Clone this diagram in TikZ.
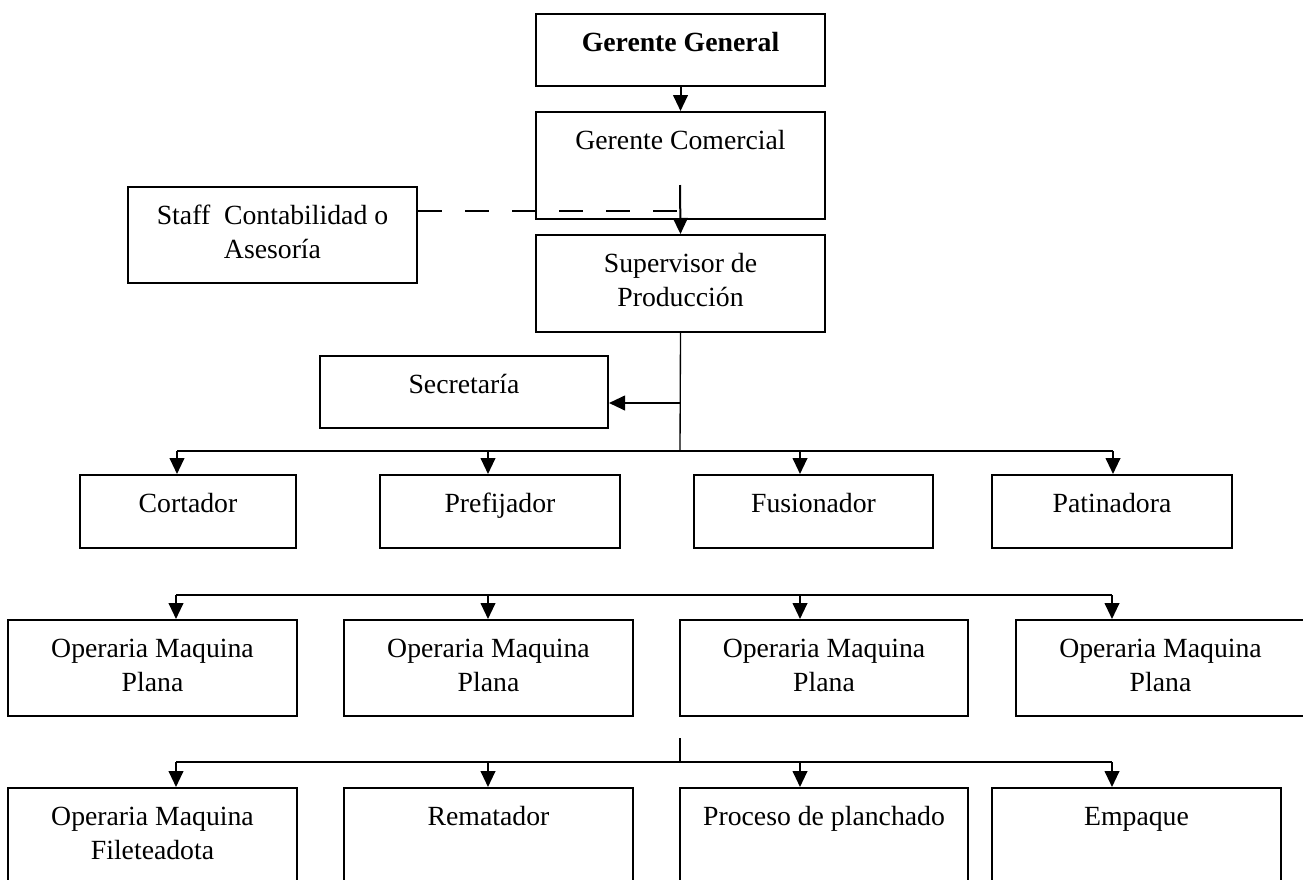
\documentclass[tikz,border=0pt]{standalone}
\usepackage{fontspec}
\setmainfont{Liberation Serif}
\usetikzlibrary{arrows.meta}
\begin{document}
\begin{tikzpicture}
  [
    x = 0.75pt, y = -0.75pt,
    every node/.style = {font = \fontsize{20.8pt}{25.5pt}\selectfont},
    puesto/.style = {draw, rectangle, line width = 1.5pt, anchor = north, align = center, inner sep = 0pt, text height = 27.75pt},
    dos/.style = {text height = 53.25pt},
    linea/.style = {line width = 1.5pt},
    >={Triangle[length = 12pt, width = 11pt]}
  ]
    \useasboundingbox (0,0) rectangle (1303,879);
    \node (gg) [puesto, minimum width = 216.75pt, text depth = 26.25pt] at (680.5,13) {\textbf{Gerente General}};
    \node (gc) [puesto, minimum width = 216.75pt, text depth = 52.5pt] at (680.5,111) {Gerente Comercial};
    \node (staff) [puesto, dos, minimum width = 216.75pt, text depth = 18.75pt] at (272.5,186) {Staff~ Contabilidad o\\Asesoría};
    \node (sup) [puesto, dos, minimum width = 216.75pt, text depth = 19.5pt] at (680.5,234) {Supervisor de\\Producción};
    \node (sec) [puesto, minimum width = 216pt, text depth = 26.25pt] at (464,355) {Secretaría};
    \node (cor) [puesto, minimum width = 162pt, text depth = 27pt] at (188,474) {Cortador};
    \node (pre) [puesto, minimum width = 180pt, text depth = 27pt] at (500,474) {Prefijador};
    \node (fus) [puesto, minimum width = 179.25pt, text depth = 27pt] at (813.5,474) {Fusionador};
    \node (pat) [puesto, minimum width = 180pt, text depth = 27pt] at (1112,474) {Patinadora};
    \node (op1) [puesto, dos, minimum width = 216.75pt, text depth = 18.75pt] at (152.5,619) {Operaria Maquina\\Plana};
    \node (op2) [puesto, dos, minimum width = 216.75pt, text depth = 18.75pt] at (488.5,619) {Operaria Maquina\\Plana};
    \node (op3) [puesto, dos, minimum width = 216pt, text depth = 18.75pt] at (824,619) {Operaria Maquina\\Plana};
    \node (op4) [puesto, dos, minimum width = 216.75pt, text depth = 18.75pt] at (1160.5,619) {Operaria Maquina\\Plana};
    \node (fil) [puesto, dos, minimum width = 216.75pt, text depth = 29.25pt] at (152.5,787) {Operaria Maquina\\Fileteadota};
    \node (rem) [puesto, minimum width = 216.75pt, text depth = 54.75pt] at (488.5,787) {Rematador};
    \node (pla) [puesto, minimum width = 216pt, text depth = 54.75pt] at (824,787) {Proceso de planchado};
    \node (emp) [puesto, minimum width = 216.75pt, text depth = 54.75pt] at (1136.5,787) {Empaque};
    % puntos de las lineas
    \coordinate (gcin) at (680,185);
    \coordinate (staffin) at (680,211);
    \coordinate (tronco) at (680,451);
    \coordinate (secin) at (680,403);
    \coordinate (a1) at (177,451);
    \coordinate (a2) at (488,451);
    \coordinate (a3) at (800,451);
    \coordinate (a4) at (1113,451);
    \coordinate (b1) at (176,595);
    \coordinate (b2) at (488,595);
    \coordinate (b3) at (800,595);
    \coordinate (b4) at (1112,595);
    \coordinate (t) at (680,738);
    \coordinate (c0) at (680,762);
    \coordinate (c1) at (176,762);
    \coordinate (c2) at (488,762);
    \coordinate (c3) at (800,762);
    \coordinate (c4) at (1112,762);
    \draw [->, linea] (gg.south) -- (gc.north);
    \draw [linea, dash pattern = on 18pt off 17.25pt] (staffin -| staff.east) -- (staffin);
    \draw [->, linea] (gcin) -- (sup.north);
    \draw [line width = 1pt] (sup.south) -- (tronco);
    \draw [->, linea] (secin) -- (secin -| sec.east);
    \draw [linea] (a1) -- (a4);
    \draw [->, linea] (a1) -- (a1 |- cor.north);
    \draw [->, linea] (a2) -- (a2 |- pre.north);
    \draw [->, linea] (a3) -- (a3 |- fus.north);
    \draw [->, linea] (a4) -- (a4 |- pat.north);
    \draw [linea] (b1) -- (b4);
    \draw [->, linea] (b1) -- (b1 |- op1.north);
    \draw [->, linea] (b2) -- (b2 |- op2.north);
    \draw [->, linea] (b3) -- (b3 |- op3.north);
    \draw [->, linea] (b4) -- (b4 |- op4.north);
    \draw [line width = 1pt] (t) -- (c0);
    \draw [linea] (c1) -- (c4);
    \draw [->, linea] (c1) -- (c1 |- fil.north);
    \draw [->, linea] (c2) -- (c2 |- rem.north);
    \draw [->, linea] (c3) -- (c3 |- pla.north);
    \draw [->, linea] (c4) -- (c4 |- emp.north);
\end{tikzpicture}
\end{document}
